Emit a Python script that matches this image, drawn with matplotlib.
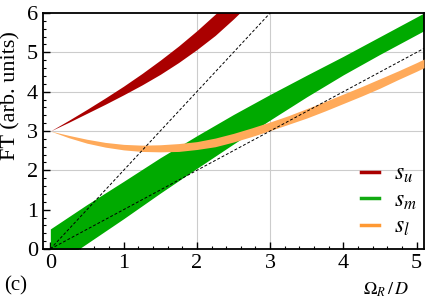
import matplotlib
matplotlib.use("Agg")
import matplotlib.pyplot as plt
from matplotlib.lines import Line2D

# donnees
x_u = [0, 0.25, 0.5, 0.75, 1.0, 1.25, 1.5, 1.75, 2.0, 2.25, 2.5, 2.75]
su_low = [3.0, 3.22, 3.45, 3.68, 3.92, 4.17, 4.44, 4.74, 5.07, 5.43, 5.85, 6.30]
su_up = [3.0, 3.27, 3.55, 3.84, 4.14, 4.46, 4.80, 5.16, 5.55, 5.97, 6.40, 6.85]

x_m = [0, 0.5, 1.0, 1.5, 2.0, 2.5, 3.0, 3.5, 4.0, 4.5, 5.1]
sm_low = [-0.49, 0.14, 0.77, 1.42, 2.05, 2.67, 3.28, 3.87, 4.43, 4.95, 5.55]
sm_up = [0.51, 1.13, 1.72, 2.32, 2.88, 3.42, 3.93, 4.42, 4.90, 5.40, 6.0]

x_l = [0, 0.25, 0.5, 0.75, 1.0, 1.25, 1.5, 1.75, 2.0, 2.25, 2.5, 2.75, 3.0,
       3.25, 3.5, 3.75, 4.0, 4.25, 4.5, 4.75, 5.0, 5.1]
sl_low = [3.0, 2.83, 2.69, 2.59, 2.52, 2.48, 2.47, 2.48, 2.53, 2.60, 2.72, 2.86, 3.01,
          3.17, 3.33, 3.51, 3.70, 3.89, 4.09, 4.31, 4.52, 4.61]
sl_up = [3.0, 2.89, 2.79, 2.71, 2.66, 2.64, 2.65, 2.68, 2.73, 2.82, 2.94, 3.08, 3.23,
         3.39, 3.57, 3.75, 3.94, 4.13, 4.33, 4.53, 4.74, 4.83]

# droites en pointilles
ligneA_x = [0, 3.0]
ligneA_y = [0, 6.0]
ligneB_x = [0, 5.1]
ligneB_y = [0, 5.1]

noms = ["$s_u$", "$s_m$", "$s_l$"]

plt.rcParams['font.family'] = ['Liberation Serif', 'DejaVu Serif']
plt.rcParams['mathtext.fontset'] = 'stix'

fig = plt.figure(figsize=(4.25, 2.99), dpi=100)
ax = fig.add_axes([43/425, 50/299, 381/425, 236/299])

# grille partielle
for gx in [2, 3]:
    ax.axvline(gx, color='#cccccc', lw=0.8, zorder=0)
for gy in [2, 3, 4, 5]:
    ax.axhline(gy, color='#cccccc', lw=0.8, zorder=0)

ax.fill_between(x_u, su_low, su_up, color='#aa0000', lw=0, zorder=2)
ax.fill_between(x_m, sm_low, sm_up, color='#00aa00', lw=0, zorder=2)
ax.fill_between(x_l, sl_low, sl_up, color='#ffaa5a', lw=0, zorder=3)

ax.plot(ligneA_x, ligneA_y, color='black', lw=0.7, ls=(0, (3, 2)), zorder=4)
ax.plot(ligneB_x, ligneB_y, color='black', lw=0.7, ls=(0, (3, 2)), zorder=4)

ax.set_xlim(-0.1, 5.1)
ax.set_ylim(0, 6)
ax.set_xticks([0, 1, 2, 3, 4, 5])
ax.set_yticks([0, 1, 2, 3, 4, 5, 6])
ax.set_xticks([i/5 for i in range(26)], minor=True)
ax.set_yticks([i/5 for i in range(31)], minor=True)
ax.tick_params(which='both', direction='in', top=False, right=False)
ax.tick_params(which='major', length=5, width=1, labelsize=16)
ax.tick_params(which='minor', length=2.5, width=0.8)
for s in ax.spines.values():
    s.set_linewidth(1.3)

ax.set_ylabel("FT (arb. units)", fontsize=16)
ax.yaxis.set_label_coords(-0.058, 0.65)
fig.text(386/425, 1 - 290/299, r"$\Omega_R\,/\,D$", fontsize=13, ha='center', va='center')
fig.text(4/425, 1 - 286/299, "(c)", fontsize=15, ha='left', va='center')

poignees = [Line2D([], [], color='#aa0000', lw=2.5),
            Line2D([], [], color='#11aa11', lw=2.5),
            Line2D([], [], color='#ff9933', lw=2.5)]
ax.legend(poignees, noms, loc='lower left', bbox_to_anchor=(0.79, -0.025),
          frameon=False, fontsize=17, handlelength=0.8, handletextpad=0.6,
          labelspacing=0.2, borderpad=0.2)

plt.savefig("out.png", dpi=100)
